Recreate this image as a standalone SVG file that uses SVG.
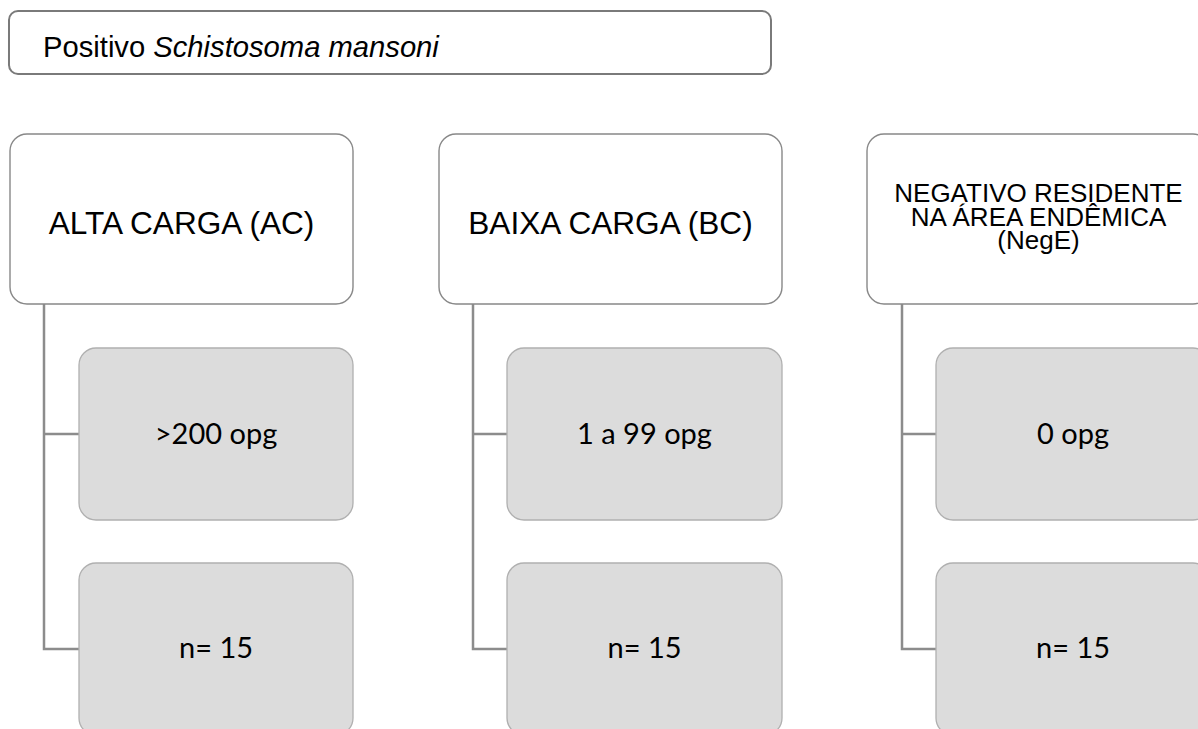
<svg xmlns="http://www.w3.org/2000/svg" width="1198" height="729" viewBox="0 0 1198 729">
<style>
.top{fill:#fff;stroke:#7a7a7a;stroke-width:2}
.hdr{fill:#fff;stroke:#888;stroke-width:1.4}
.ch{fill:#dcdcdc;stroke:#b0b0b0;stroke-width:1.3}
.con{fill:none;stroke:#8c8c8c;stroke-width:2.5}
.ta{font-family:"Liberation Sans",Arial,sans-serif;fill:#000;text-anchor:middle}
.tc{font-family:Lato,"Open Sans",sans-serif;fill:#000;text-anchor:middle;font-size:29px}
</style>
<rect width="1198" height="729" fill="#fff"/>
<g id="connectors">
<path class="con" d="M44,304 V649 H79 M44,434 H79"/>
<path class="con" d="M473,304 V649 H507 M473,434 H507"/>
<path class="con" d="M902,304 V649 H936 M902,434 H936"/>
</g>
<g id="top">
<rect class="top" x="9" y="11" width="762" height="63" rx="9"/>
<text x="43" y="57" font-family="Liberation Sans,Arial,sans-serif" font-size="29.2">Positivo <tspan font-style="italic">Schistosoma mansoni</tspan></text>
</g>
<g id="ac">
<rect class="hdr" x="10" y="134" width="343" height="170" rx="17"/>
<text class="ta" x="181.5" y="234" font-size="31.6">ALTA CARGA (AC)</text>
</g>
<g id="ac-opg">
<rect class="ch" x="79" y="348" width="274" height="172" rx="17"/>
<text class="tc" x="216" y="444">&gt;200 opg</text>
</g>
<g id="ac-n">
<rect class="ch" x="79" y="563" width="274" height="172" rx="17"/>
<text class="tc" x="216" y="658">n= 15</text>
</g>
<g id="bc">
<rect class="hdr" x="439" y="134" width="343" height="170" rx="17"/>
<text class="ta" x="610.5" y="234" font-size="31.6">BAIXA CARGA (BC)</text>
</g>
<g id="bc-opg">
<rect class="ch" x="507" y="348" width="275" height="172" rx="17"/>
<text class="tc" x="644.5" y="444">1 a 99 opg</text>
</g>
<g id="bc-n">
<rect class="ch" x="507" y="563" width="275" height="172" rx="17"/>
<text class="tc" x="644.5" y="658">n= 15</text>
</g>
<g id="nege">
<rect class="hdr" x="867" y="134" width="343" height="170" rx="17"/>
<text class="ta" font-size="26"><tspan x="1038.5" y="202">NEGATIVO RESIDENTE</tspan><tspan x="1038.5" y="226">NA ÁREA ENDÊMICA</tspan><tspan x="1038.5" y="249">(NegE)</tspan></text>
</g>
<g id="nege-opg">
<rect class="ch" x="936" y="348" width="274" height="172" rx="17"/>
<text class="tc" x="1073" y="444">0 opg</text>
</g>
<g id="nege-n">
<rect class="ch" x="936" y="563" width="274" height="172" rx="17"/>
<text class="tc" x="1073" y="658">n= 15</text>
</g>
</svg>
